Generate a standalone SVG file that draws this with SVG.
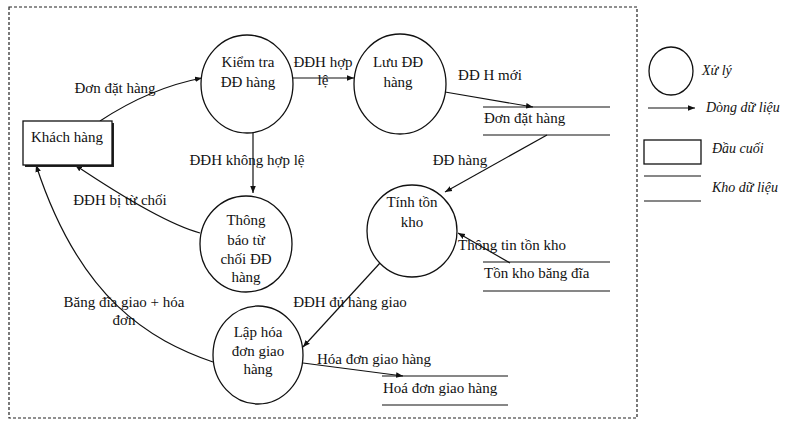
<svg xmlns="http://www.w3.org/2000/svg" width="789" height="427" viewBox="0 0 789 427">
<style>
text{font-family:"Liberation Serif",Tinos,"Times New Roman","DejaVu Serif","Noto Serif",serif;font-size:15px;fill:#111}
.c{text-anchor:middle}
.i{font-style:italic;font-size:14px}
.n{fill:#fff;stroke:#111;stroke-width:1.3}
.f{fill:none;stroke:#111;stroke-width:1.2}
.s{stroke:#111;stroke-width:1.2}
</style>
<defs>
<marker id="a" viewBox="0 0 10 10" refX="10" refY="5" markerWidth="7" markerHeight="7" orient="auto" markerUnits="userSpaceOnUse">
<path d="M0,1 L10,5 L0,9 z" fill="#111"/>
</marker>
</defs>
<rect width="789" height="427" fill="#fff"/>
<rect x="9" y="7" width="628" height="411" fill="none" stroke="#222" stroke-width="1.2" stroke-dasharray="3,2"/>

<g id="connectors">
<path class="f" d="M100,121 Q150,88 202,78" marker-end="url(#a)"/>
<path class="f" d="M292,78 L354,78" marker-end="url(#a)"/>
<path class="f" d="M253,133 L253,193" marker-end="url(#a)"/>
<path class="f" d="M445,92 L533,107" marker-end="url(#a)"/>
<path class="f" d="M547,135 L445,192" marker-end="url(#a)"/>
<path class="f" d="M510,263 L458,233" marker-end="url(#a)"/>
<path class="f" d="M380,263 L303,347" marker-end="url(#a)"/>
<path class="f" d="M303,363 L403,376" marker-end="url(#a)"/>
<path class="f" d="M200,233 Q160,222 75,165" marker-end="url(#a)"/>
<path class="f" d="M213,362 C150,340 80,300 36,165" marker-end="url(#a)"/>
<text x="115" y="93" class="c">Đơn đặt hàng</text>
<text x="323" y="67" class="c">ĐĐH hợp</text>
<text x="323" y="85" class="c">lệ</text>
<text x="247" y="165" class="c">ĐĐH không hợp lệ</text>
<text x="490" y="80" class="c">ĐĐ H mới</text>
<text x="460" y="165" class="c">ĐĐ hàng</text>
<text x="512" y="250" class="c">Thông tin tồn kho</text>
<text x="350" y="307" class="c">ĐĐH đủ hàng giao</text>
<text x="374" y="364" class="c">Hóa đơn giao hàng</text>
<text x="120" y="205" class="c">ĐĐH bị từ chối</text>
<text x="124" y="307" class="c">Băng đĩa giao + hóa</text>
<text x="124" y="325" class="c">đơn</text>
</g>

<g id="khach-hang">
<rect x="25" y="123" width="89" height="44" fill="#222"/>
<rect x="23" y="121" width="89" height="44" class="n"/>
<text x="67" y="142" class="c">Khách hàng</text>
</g>

<g id="kiem-tra">
<ellipse cx="247" cy="84" rx="46" ry="49" class="n"/>
<text x="248" y="67" class="c">Kiểm tra</text>
<text x="248" y="87" class="c">ĐĐ hàng</text>
</g>

<g id="luu-dd">
<ellipse cx="400" cy="84" rx="46" ry="50" class="n"/>
<text x="398" y="67" class="c">Lưu ĐĐ</text>
<text x="398" y="87" class="c">hàng</text>
</g>

<g id="kho-don-dat-hang">
<line x1="483" y1="107" x2="610" y2="107" class="s"/>
<line x1="483" y1="135" x2="610" y2="135" class="s"/>
<text x="484" y="123">Đơn đặt hàng</text>
</g>

<g id="tinh-ton-kho">
<ellipse cx="412" cy="231" rx="45" ry="46" class="n"/>
<text x="412" y="207" class="c">Tính tồn</text>
<text x="412" y="227" class="c">kho</text>
</g>

<g id="kho-ton-kho">
<line x1="483" y1="262" x2="610" y2="262" class="s"/>
<line x1="483" y1="291" x2="610" y2="291" class="s"/>
<text x="484" y="278">Tồn kho băng đĩa</text>
</g>

<g id="thong-bao">
<ellipse cx="246" cy="244" rx="46" ry="48" class="n"/>
<text x="246" y="225" class="c">Thông</text>
<text x="246" y="245" class="c">báo từ</text>
<text x="246" y="264" class="c">chối ĐĐ</text>
<text x="246" y="282" class="c">hàng</text>
</g>

<g id="lap-hoa-don">
<ellipse cx="258" cy="355" rx="45" ry="49" class="n"/>
<text x="258" y="337" class="c">Lập hóa</text>
<text x="258" y="356" class="c">đơn giao</text>
<text x="258" y="374" class="c">hàng</text>
</g>

<g id="kho-hoa-don">
<line x1="382" y1="376" x2="508" y2="376" class="s"/>
<line x1="382" y1="405" x2="508" y2="405" class="s"/>
<text x="383" y="393">Hoá đơn giao hàng</text>
</g>

<g id="legend">
<ellipse cx="671" cy="71" rx="22" ry="24" class="n"/>
<text x="702" y="75" class="i">Xử lý</text>
<line x1="648" y1="108" x2="695" y2="108" class="s" marker-end="url(#a)"/>
<text x="706" y="112" class="i">Dòng dữ liệu</text>
<rect x="644" y="140" width="57" height="24" class="n"/>
<text x="712" y="153" class="i">Đầu cuối</text>
<line x1="644" y1="176" x2="701" y2="176" class="s"/>
<line x1="644" y1="201" x2="701" y2="201" class="s"/>
<text x="712" y="192" class="i">Kho dữ liệu</text>
</g>
</svg>
